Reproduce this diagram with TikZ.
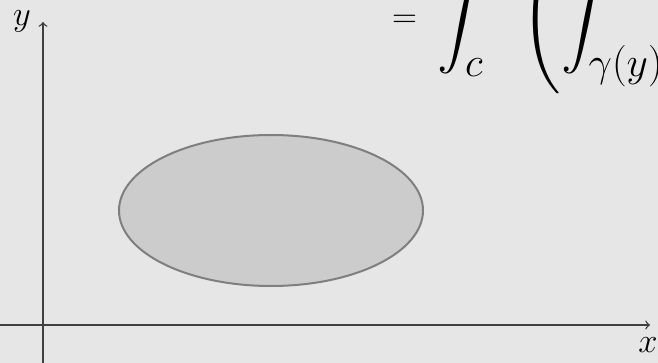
\documentclass[tikz,border=0pt]{standalone}
\usepackage{amsmath}
\definecolor{bggray}{HTML}{E6E6E6}
\definecolor{regionfill}{HTML}{CCCCCC}
\definecolor{regionline}{HTML}{7F7F7F}
\definecolor{axisgray}{HTML}{404040}
\tikzset{
  axis/.style={draw=axisgray,line width=0.7pt},
  lbl/.style={inner sep=0pt,font=\LARGE},
  formula/.style={inner sep=0pt,font=\Huge},
  region/.style={fill=regionfill,draw=regionline,line width=1pt}
}
\begin{document}
\begin{tikzpicture}[x=0.5pt,y=-0.5pt,>=to]
\fill[bggray] (0,0) rectangle (658,363);
\clip (0,0) rectangle (658,363);
% axes
\coordinate (xs) at (0,325);
\coordinate (xe) at (650,325);
\coordinate (ys) at (43,363);
\coordinate (ye) at (43,22);
\draw[axis,->] (xs) -- (xe);
\draw[axis,->] (ys) -- (ye);
\node[lbl] (ylab) at (22,21) {$y$};
\node[lbl] (xlab) at (648,345) {$x$};
% region
\filldraw[region] (271,210.5) ellipse [x radius=152, y radius=75.5];
% formula, cut by the frame
\node[lbl] (eqsign) at (404.5,21) {$=$};
\node[formula,anchor=base west] (eq) at (437,31.5)
  {$\displaystyle \int_c \hspace{0.6em} \left( \int_{\gamma(y)} \right.$};
\end{tikzpicture}
\end{document}
